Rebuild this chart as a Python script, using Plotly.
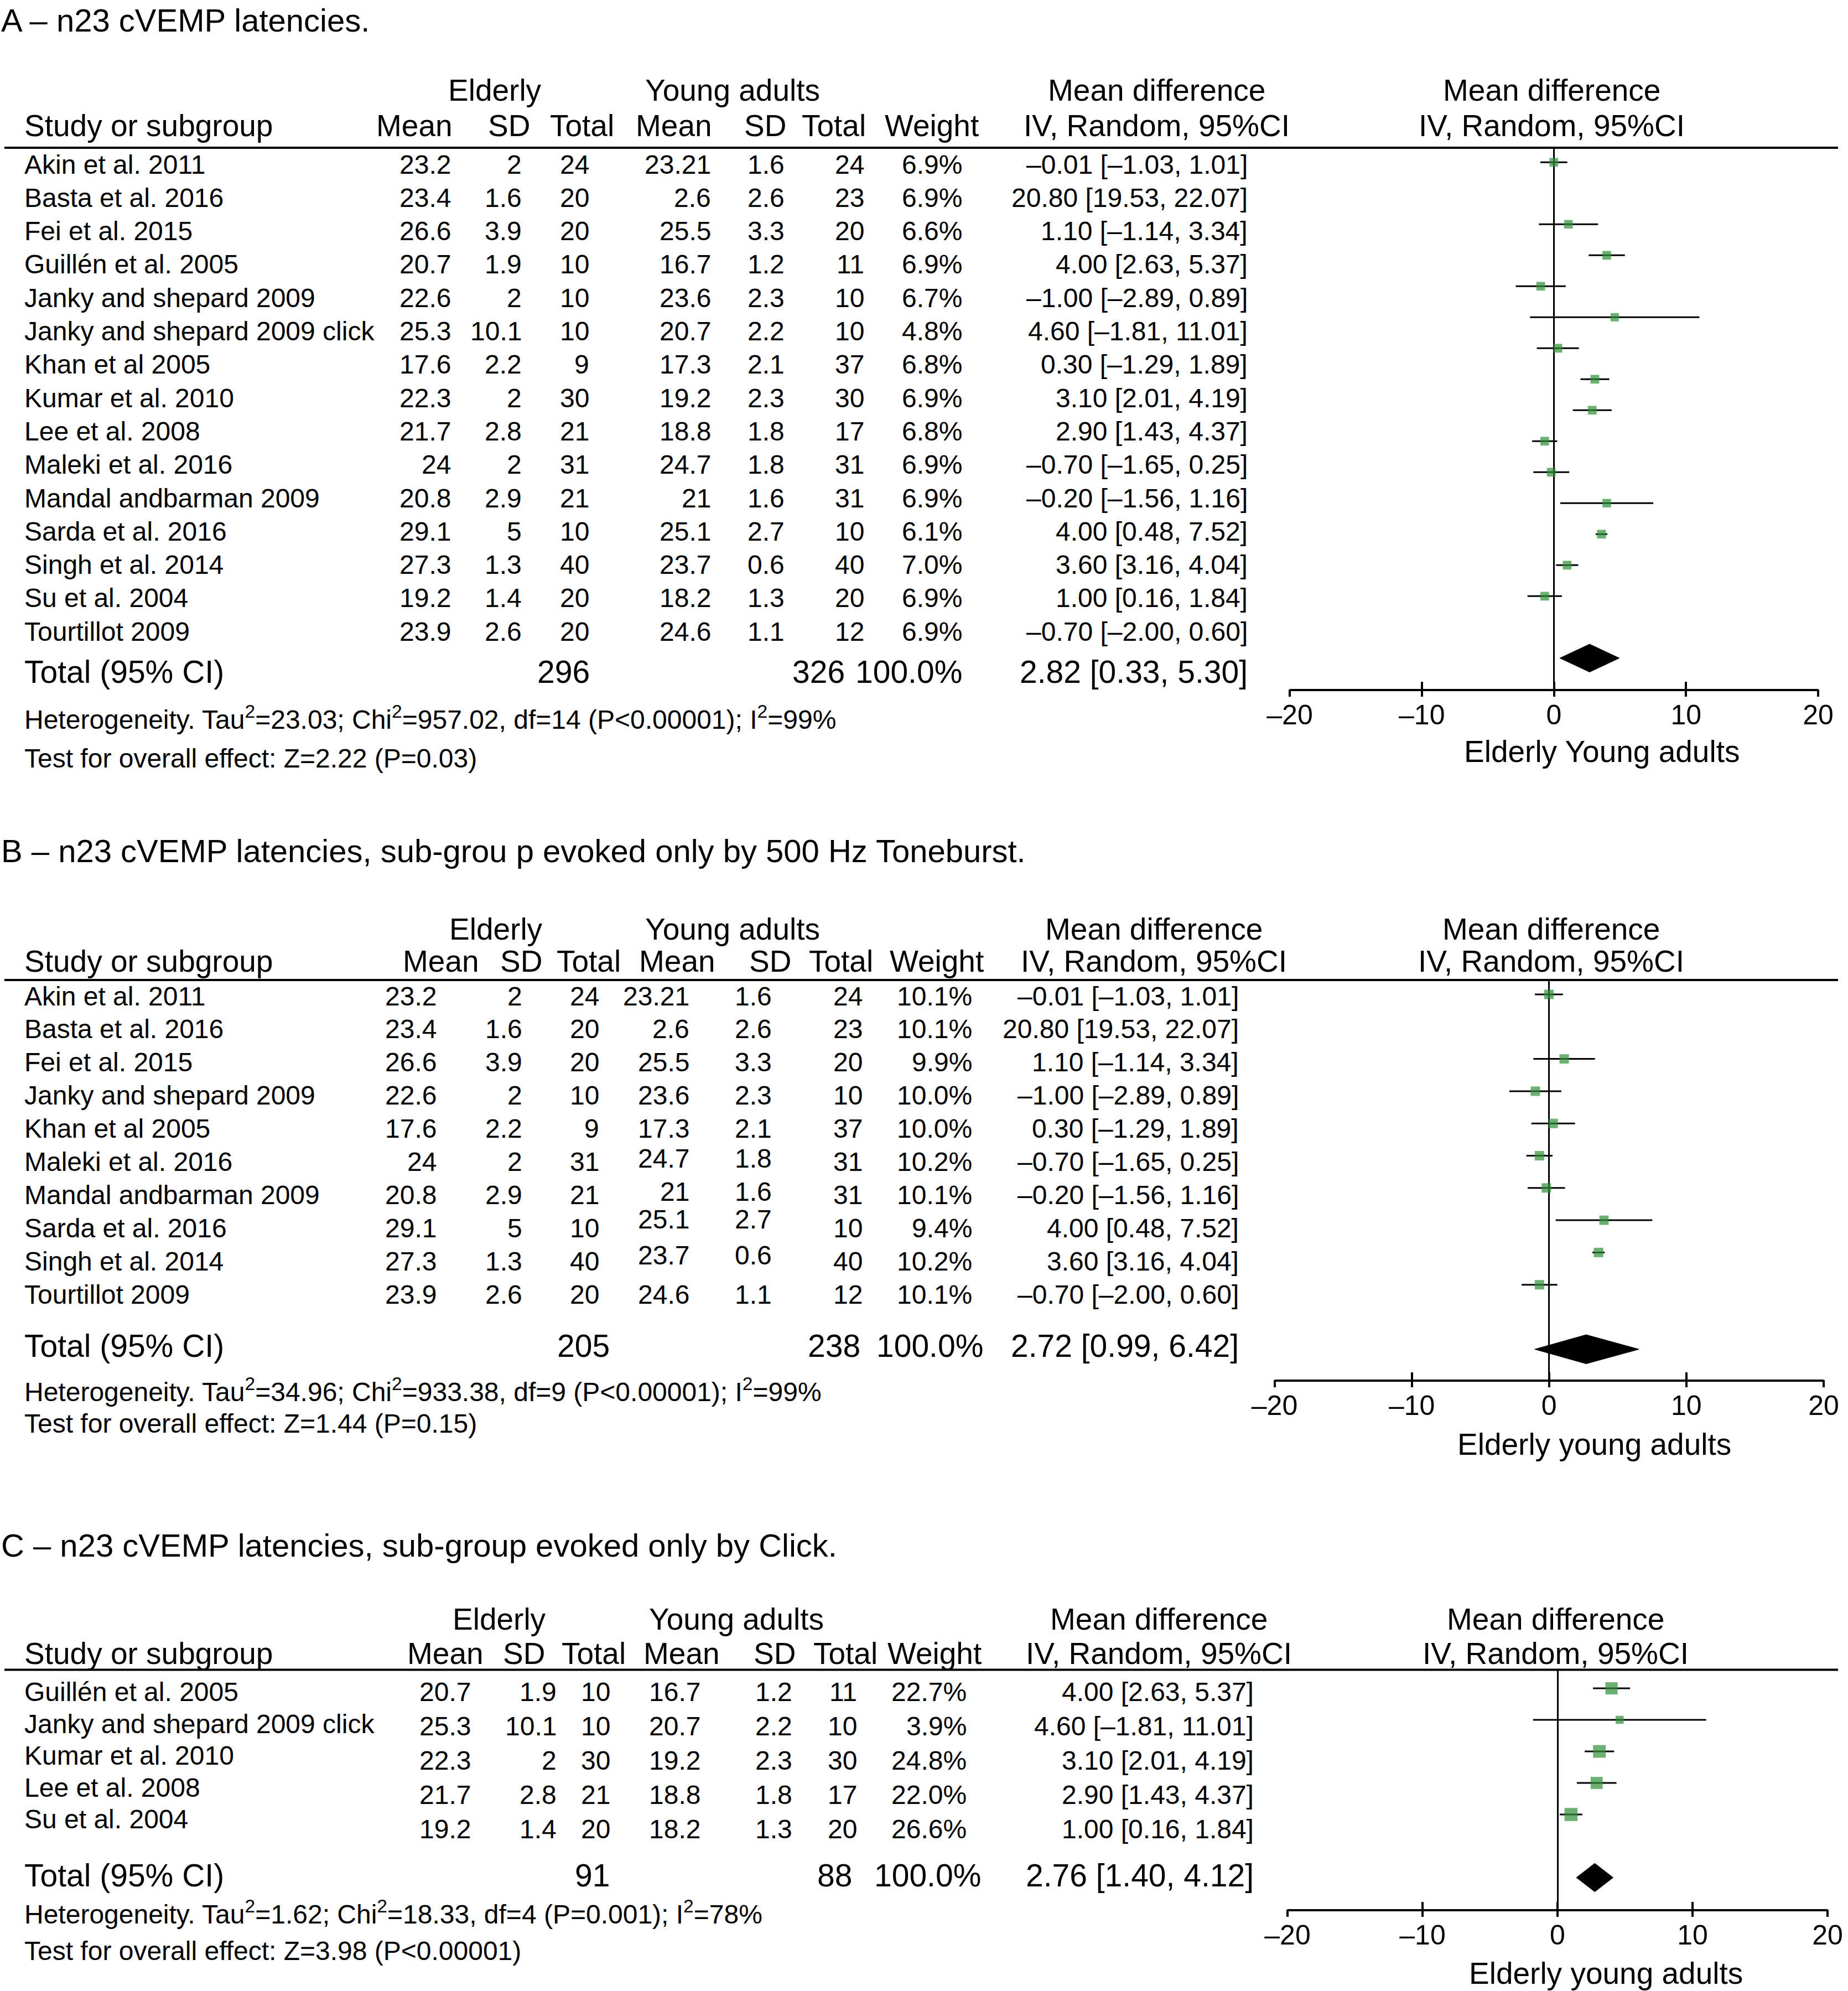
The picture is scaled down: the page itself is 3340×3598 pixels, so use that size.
import plotly.graph_objects as go

W, H = 3340, 3598
FONT = "Liberation Sans, Arial, Helvetica, sans-serif"
GREEN = "#2f8f37"

# ---------------- data ----------------
study = ["Akin et al. 2011", "Basta et al. 2016", "Fei et al. 2015", "Guillén et al. 2005",
         "Janky and shepard 2009", "Janky and shepard 2009 click", "Khan et al 2005",
         "Kumar et al. 2010", "Lee et al. 2008", "Maleki et al. 2016", "Mandal andbarman 2009",
         "Sarda et al. 2016", "Singh et al. 2014", "Su et al. 2004", "Tourtillot 2009"]
mean_e = ["23.2", "23.4", "26.6", "20.7", "22.6", "25.3", "17.6", "22.3", "21.7", "24", "20.8",
          "29.1", "27.3", "19.2", "23.9"]
sd_e = ["2", "1.6", "3.9", "1.9", "2", "10.1", "2.2", "2", "2.8", "2", "2.9", "5", "1.3", "1.4", "2.6"]
n_e = [24, 20, 20, 10, 10, 10, 9, 30, 21, 31, 21, 10, 40, 20, 20]
mean_y = ["23.21", "2.6", "25.5", "16.7", "23.6", "20.7", "17.3", "19.2", "18.8", "24.7", "21",
          "25.1", "23.7", "18.2", "24.6"]
sd_y = ["1.6", "2.6", "3.3", "1.2", "2.3", "2.2", "2.1", "2.3", "1.8", "1.8", "1.6", "2.7", "0.6", "1.3", "1.1"]
n_y = [24, 23, 20, 11, 10, 10, 37, 30, 17, 31, 31, 10, 40, 20, 12]
md = [-0.01, 20.80, 1.10, 4.00, -1.00, 4.60, 0.30, 3.10, 2.90, -0.70, -0.20, 4.00, 3.60, 1.00, -0.70]
ci_lo = [-1.03, 19.53, -1.14, 2.63, -2.89, -1.81, -1.29, 2.01, 1.43, -1.65, -1.56, 0.48, 3.16, 0.16, -2.00]
ci_hi = [1.01, 22.07, 3.34, 5.37, 0.89, 11.01, 1.89, 4.19, 4.37, 0.25, 1.16, 7.52, 4.04, 1.84, 0.60]

A_rows = list(range(15))
A_weight = [6.9, 6.9, 6.6, 6.9, 6.7, 4.8, 6.8, 6.9, 6.8, 6.9, 6.9, 6.1, 7.0, 6.9, 6.9]
B_rows = [0, 1, 2, 4, 6, 9, 10, 11, 12, 14]
B_weight = [10.1, 10.1, 9.9, 10.0, 10.0, 10.2, 10.1, 9.4, 10.2, 10.1]
C_rows = [3, 5, 7, 8, 13]
C_weight = [22.7, 3.9, 24.8, 22.0, 26.6]

tot_e = [296, 205, 91]
tot_y = [326, 238, 88]
tot_md_label = ["2.82 [0.33, 5.30]", "2.72 [0.99, 6.42]", "2.76 [1.40, 4.12]"]
diamond_lo = [0.45, -1.05, 1.40]
diamond_mid = [2.7, 2.7, 2.76]
diamond_hi = [4.95, 6.55, 4.12]

titles = ["A – n23 cVEMP latencies.",
          "B – n23 cVEMP latencies, sub-grou p evoked only by 500 Hz Toneburst.",
          "C – n23 cVEMP latencies, sub-group evoked only by Click."]
het = ["Heterogeneity. Tau<sup>2</sup>=23.03; Chi<sup>2</sup>=957.02, df=14 (P&lt;0.00001); I<sup>2</sup>=99%",
       "Heterogeneity. Tau<sup>2</sup>=34.96; Chi<sup>2</sup>=933.38, df=9 (P&lt;0.00001); I<sup>2</sup>=99%",
       "Heterogeneity. Tau<sup>2</sup>=1.62; Chi<sup>2</sup>=18.33, df=4 (P=0.001); I<sup>2</sup>=78%"]
overall = ["Test for overall effect: Z=2.22 (P=0.03)",
           "Test for overall effect: Z=1.44 (P=0.15)",
           "Test for overall effect: Z=3.98 (P&lt;0.00001)"]
axis_titles = ["Elderly Young adults", "Elderly young adults", "Elderly young adults"]
xticks = [-20, -10, 0, 10, 20]
xtick_text = ["–20", "–10", "0", "10", "20"]

# ---------------- layout positions (pixels) ----------------
PANELS = [
    dict(rows=A_rows, weights=A_weight, title_y=37, h1=163, h2=227, line=267,
         name_y0=297, name_step=60.3, val_y0=297, val_step=60.3, ydy=[0] * 15,
         total_y=1214, het_y=1297, test_y=1370,
         cols=dict(mean_e=817, sd_e=945, n_e=1067, mean_y=1287, sd_y=1420, n_y=1564, weight=1741, md=2257),
         hdr=dict(elderly=895, mean_e=749, sd_e=920, n_e=1052, young=1324, mean_y=1218, sd_y=1383,
                  n_y=1507, weight=1684, md=2090, plot=2804),
         tot=dict(n_e=1068, n_y=1529, weight=1741, md=2257),
         fx0=2331, fx1=3286, fy_top=268, fy0=293.3, fstep=56.0, faxis=17, fdiam=16, atitle=(2895, 1358)),
    dict(rows=B_rows, weights=B_weight, title_y=1537, h1=1679, h2=1737, line=1771,
         name_y0=1800, name_step=59.9, val_y0=1800, val_step=59.9, ydy=[0, 0, 0, 0, 0, -6, -6, -16, -11, 0],
         total_y=2432, het_y=2512, test_y=2572,
         cols=dict(mean_e=791, sd_e=946, n_e=1085, mean_y=1248, sd_y=1397, n_y=1561, weight=1759, md=2241),
         hdr=dict(elderly=896, mean_e=797, sd_e=942, n_e=1064, young=1324, mean_y=1224, sd_y=1392,
                  n_y=1520, weight=1693, md=2085, plot=2803),
         tot=dict(n_e=1104, n_y=1557, weight=1779, md=2241),
         fx0=2303.5, fx1=3296, fy_top=1770.5, fy0=1797, fstep=58.3, faxis=11.94, fdiam=11, atitle=(2881, 2610)),
    dict(rows=C_rows, weights=C_weight, title_y=2792, h1=2926, h2=2988, line=3017.5,
         name_y0=3057.5, name_step=57.6, val_y0=3057.5, val_step=62, ydy=[0] * 5,
         total_y=3389, het_y=3456, test_y=3525,
         cols=dict(mean_e=853, sd_e=1008, n_e=1105, mean_y=1268, sd_y=1434, n_y=1551, weight=1749, md=2268),
         hdr=dict(elderly=903, mean_e=805, sd_e=947, n_e=1073, young=1331, mean_y=1232, sd_y=1400,
                  n_y=1528, weight=1689, md=2094, plot=2811),
         tot=dict(n_e=1104, n_y=1542, weight=1775, md=2268),
         fx0=2327, fx1=3303, fy_top=3017.5, fy0=3051, fstep=57.0, faxis=7.0, fdiam=6, atitle=(2902, 3566)),
]

S_TITLE, S_HEAD, S_ROW, S_TOT, S_FOOT, S_TICK, S_AT = 58, 55, 48, 57, 48, 50, 55


def dash(s):
    return s.replace("-", "–")


def md_label(i):
    return dash(f"{md[i]:.2f} [{ci_lo[i]:.2f}, {ci_hi[i]:.2f}]")


ann = []
shapes = []


def txt(x, y, s, size, anchor="left"):
    ann.append(dict(x=x / W, y=1 - y / H, xref="paper", yref="paper", text=s, showarrow=False,
                    xanchor=anchor, yanchor="middle",
                    font=dict(family=FONT, size=size, color="black")))


fig = go.Figure()
layout_axes = {}

for k, P in enumerate(PANELS):
    c, h, t = P["cols"], P["hdr"], P["tot"]
    # title
    txt(0, P["title_y"], titles[k], S_TITLE)
    # headers
    txt(h["elderly"], P["h1"], "Elderly", S_HEAD, "center")
    txt(h["young"], P["h1"], "Young adults", S_HEAD, "center")
    txt(h["md"], P["h1"], "Mean difference", S_HEAD, "center")
    txt(h["plot"], P["h1"], "Mean difference", S_HEAD, "center")
    txt(42, P["h2"], "Study or subgroup", S_HEAD)
    for key, lab in [("mean_e", "Mean"), ("sd_e", "SD"), ("n_e", "Total"), ("mean_y", "Mean"),
                     ("sd_y", "SD"), ("n_y", "Total"), ("weight", "Weight")]:
        txt(h[key], P["h2"], lab, S_HEAD, "center")
    txt(h["md"], P["h2"], "IV, Random, 95%CI", S_HEAD, "center")
    txt(h["plot"], P["h2"], "IV, Random, 95%CI", S_HEAD, "center")
    shapes.append(dict(type="line", xref="paper", yref="paper", x0=8 / W, x1=3322 / W,
                       y0=1 - P["line"] / H, y1=1 - P["line"] / H, line=dict(color="black", width=4)))
    # study rows
    for j, i in enumerate(P["rows"]):
        yn = P["name_y0"] + j * P["name_step"]
        yv = P["val_y0"] + j * P["val_step"]
        txt(42, yn, study[i], S_ROW)
        txt(c["mean_e"], yv, mean_e[i], S_ROW, "right")
        txt(c["sd_e"], yv, sd_e[i], S_ROW, "right")
        txt(c["n_e"], yv, str(n_e[i]), S_ROW, "right")
        txt(c["mean_y"], yv + P["ydy"][j], mean_y[i], S_ROW, "right")
        txt(c["sd_y"], yv + P["ydy"][j], sd_y[i], S_ROW, "right")
        txt(c["n_y"], yv, str(n_y[i]), S_ROW, "right")
        txt(c["weight"], yv, f"{P['weights'][j]:.1f}%", S_ROW, "right")
        txt(c["md"], yv, md_label(i), S_ROW, "right")
    # totals
    txt(42, P["total_y"], "Total (95% CI)", S_TOT)
    txt(t["n_e"], P["total_y"], str(tot_e[k]), S_TOT, "right")
    txt(t["n_y"], P["total_y"], str(tot_y[k]), S_TOT, "right")
    txt(t["weight"], P["total_y"], "100.0%", S_TOT, "right")
    txt(t["md"], P["total_y"], tot_md_label[k], S_TOT, "right")
    txt(42, P["het_y"], het[k], S_FOOT)
    txt(42, P["test_y"], overall[k], S_FOOT)
    txt(P["atitle"][0], P["atitle"][1], axis_titles[k], S_AT, "center")

    # forest plot
    sfx = "" if k == 0 else str(k + 1)
    xa, ya = "x" + sfx, "y" + sfx
    ov = str(k + 4)
    xs, ys, mx, my, ms = [], [], [], [], []
    for j, i in enumerate(P["rows"]):
        if -20 <= md[i] <= 20:
            xs += [ci_lo[i], ci_hi[i], None]
            ys += [j, j, None]
            mx.append(md[i])
            my.append(j)
            ms.append(13 + 0.4 * P["weights"][j])
    fig.add_trace(go.Scatter(x=xs, y=ys, mode="lines", line=dict(color="black", width=3),
                             xaxis=xa, yaxis=ya, hoverinfo="skip"))
    fig.add_trace(go.Scatter(x=mx, y=my, mode="markers",
                             marker=dict(symbol="square", size=ms, color=GREEN, line=dict(width=0)),
                             xaxis=xa, yaxis=ya, hoverinfo="skip"))
    d = P["fdiam"]
    fig.add_trace(go.Scatter(x=[diamond_lo[k], diamond_mid[k], diamond_hi[k], diamond_mid[k], diamond_lo[k]],
                             y=[d, d - 0.45, d, d + 0.45, d], mode="lines", fill="toself",
                             fillcolor="black", line=dict(color="black", width=1),
                             xaxis=xa, yaxis=ya, hoverinfo="skip"))
    fig.add_trace(go.Scatter(x=[0], y=[d], mode="markers", marker=dict(opacity=0, size=1),
                             xaxis="x" + ov, yaxis=ya, hoverinfo="skip"))

    top_idx = (P["fy_top"] - P["fy0"]) / P["fstep"]
    bottom_px = P["fy0"] + P["fstep"] * P["faxis"]
    xdom = [P["fx0"] / W, P["fx1"] / W]
    ydom = [1 - bottom_px / H, 1 - P["fy_top"] / H]
    # main axis: inside ticks + labels (labels sit close to the line)
    layout_axes["xaxis" + sfx] = dict(domain=xdom, range=[-20, 20], anchor=ya, tickmode="array",
                                      tickvals=xticks, ticktext=xtick_text, showline=True, linewidth=4,
                                      linecolor="black", ticks="inside", ticklen=13, tickwidth=4,
                                      tickcolor="black", showgrid=False, zeroline=True, zerolinewidth=3,
                                      zerolinecolor="black", automargin=False,
                                      tickfont=dict(family=FONT, size=S_TICK, color="black"))
    # overlay axis: outside ticks, no labels
    layout_axes["xaxis" + ov] = dict(domain=xdom, range=[-20, 20], anchor=ya, overlaying=xa,
                                     tickmode="array", tickvals=xticks, ticks="outside", ticklen=13,
                                     tickwidth=4, tickcolor="black", showticklabels=False,
                                     showline=False, showgrid=False, zeroline=False, automargin=False)
    layout_axes["yaxis" + sfx] = dict(domain=ydom, range=[P["faxis"], top_idx], anchor=xa,
                                      visible=False, showgrid=False, zeroline=False, automargin=False)

fig.update_layout(template="none", width=W, height=H,
                  margin=dict(l=0, r=0, t=0, b=0, pad=0, autoexpand=False), showlegend=False,
                  paper_bgcolor="white", plot_bgcolor="rgba(0,0,0,0)",
                  annotations=ann, shapes=shapes, **layout_axes)
fig.write_html("out.html", config={"displayModeBar": False, "staticPlot": True},
               post_script="document.body.style.margin='0px';")
